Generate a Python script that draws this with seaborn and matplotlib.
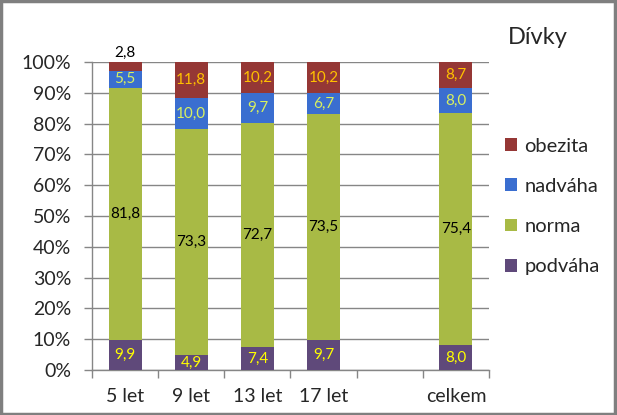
import matplotlib
matplotlib.use("Agg")
import matplotlib.pyplot as plt
import matplotlib.patches as mpatches
import seaborn as sns
import pandas as pd
import numpy as np

categories = ["5 let", "9 let", "13 let", "17 let", " ", "celkem"]
podvaha = [9.9, 4.9, 7.4, 9.7, np.nan, 8.0]
norma = [81.8, 73.3, 72.7, 73.5, np.nan, 75.4]
nadvaha = [5.5, 10.0, 9.7, 6.7, np.nan, 8.0]
obezita = [2.8, 11.8, 10.2, 10.2, np.nan, 8.7]
series_names = ["podváha", "norma", "nadváha", "obezita"]
y_ticks = [0, 10, 20, 30, 40, 50, 60, 70, 80, 90, 100]
title = "Dívky"

colors = {"podváha": "#5F497A", "norma": "#A8BA45", "nadváha": "#3A6ED0", "obezita": "#953735"}
label_colors = {"podváha": "#FFFF00", "norma": "#000000", "nadváha": "#D8F060", "obezita": "#FFC000"}

sns.set_style("white")
plt.rcParams["font.family"] = ["Lato", "DejaVu Sans"]

df = pd.DataFrame({"cat": categories, "podváha": podvaha, "norma": norma,
                   "nadváha": nadvaha, "obezita": obezita})
vals = df[series_names]
cum = vals.cumsum(axis=1)
bottoms = cum - vals

fig = plt.figure(figsize=(6.17, 4.15), dpi=100)
ax = fig.add_axes([92 / 617, 1 - 370 / 415, (489 - 92) / 617, (370 - 62) / 415])

# draw from top layer (largest cumulative) to bottom
for name in reversed(series_names):
    sns.barplot(x=df["cat"], y=cum[name], order=categories, color=colors[name],
                width=0.5, saturation=1, ax=ax, zorder=3, linewidth=0)

ax.set_ylim(0, 100)
ax.set_xlim(-0.5, len(categories) - 0.5)
ax.set_ylabel("")
ax.set_xlabel("")

# data labels
for i, cat in enumerate(categories):
    for name in series_names:
        v = vals.loc[i, name]
        if np.isnan(v):
            continue
        txt = f"{v:.1f}".replace(".", ",")
        if v < 4 and name == "obezita":
            ax.text(i, 100 + 0.6, txt, ha="center", va="bottom", fontsize=11,
                    color="#000000", clip_on=False, zorder=5)
        else:
            yc = bottoms.loc[i, name] + v / 2
            ax.text(i, yc, txt, ha="center", va="center", fontsize=11,
                    color=label_colors[name], zorder=5)

ax.set_yticks(y_ticks)
ax.set_yticklabels([f"{t}%" for t in y_ticks], fontsize=14)
ax.yaxis.grid(True, color="#868686", linewidth=1, zorder=0)
ax.set_axisbelow(True)
ax.tick_params(axis="y", length=6, color="#868686", width=1, pad=9, left=True)

ax.set_xticks(range(len(categories)))
ax.set_xticklabels(categories, fontsize=14)
ax.tick_params(axis="x", which="major", length=0, pad=13)
ax.set_xticks(np.arange(-0.5, len(categories)), minor=True)
ax.tick_params(axis="x", which="minor", length=6, color="#868686", width=1, bottom=True)

for s in ["top", "right"]:
    ax.spines[s].set_visible(False)
for s in ["left", "bottom"]:
    ax.spines[s].set_color("#868686")
    ax.spines[s].set_linewidth(1)

fig.text(508 / 617, 1 - 37 / 415, title, fontsize=17, ha="left", va="center")

handles = [mpatches.Patch(facecolor=colors[n], edgecolor="none", label=n)
           for n in reversed(series_names)]
fig.legend(handles=handles, loc="center left", bbox_to_anchor=(505 / 617, 1 - 206.5 / 415),
           frameon=False, fontsize=14.5, labelspacing=1.15, handlelength=0.62,
           handleheight=0.6, handletextpad=0.35, borderpad=0, borderaxespad=0)

fig.patches.append(mpatches.Rectangle((0.002, 0.003), 0.995, 0.994, transform=fig.transFigure,
                                      fill=False, edgecolor="#7F7F7F", linewidth=2.5))

fig.savefig("out.png", dpi=100)
